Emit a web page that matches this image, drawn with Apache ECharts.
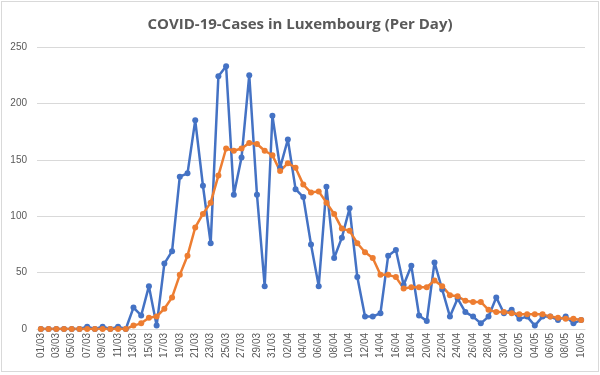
<!DOCTYPE html>
<html>
<head>
<meta charset="utf-8">
<script src="https://cdn.jsdelivr.net/npm/echarts@6/dist/echarts.min.js"></script>
<style>
html,body{margin:0;padding:0;background:#fff;}
#frame{position:absolute;left:1px;top:1px;width:596px;height:369px;border:1px solid #d9d9d9;}
#chart{position:absolute;left:0;top:0;width:600px;height:375px;}
</style>
</head>
<body>
<div id="frame"></div>
<div id="chart"></div>
<script>
const dates = ["01/03","02/03","03/03","04/03","05/03","06/03","07/03","08/03","09/03","10/03","11/03","12/03","13/03","14/03","15/03","16/03","17/03","18/03","19/03","20/03","21/03","22/03","23/03","24/03","25/03","26/03","27/03","28/03","29/03","30/03","31/03","01/04","02/04","03/04","04/04","05/04","06/04","07/04","08/04","09/04","10/04","11/04","12/04","13/04","14/04","15/04","16/04","17/04","18/04","19/04","20/04","21/04","22/04","23/04","24/04","25/04","26/04","27/04","28/04","29/04","30/04","01/05","02/05","03/05","04/05","05/05","06/05","07/05","08/05","09/05","10/05"];
const dailyCases = [0,0,0,0,0,0,2,0,2,0,2,0,19,12,38,3,58,69,135,138,185,127,76,224,233,119,152,225,119,38,189,143,168,124,117,75,38,126,63,81,107,46,11,11,14,65,70,39,56,12,7,59,35,11,27,15,11,5,11,28,14,17,9,11,3,11,11,8,11,5,8];
const average = [0,0,0,0,0,0,0,0,0,0,0,0,3,5,10,11,18,28,48,65,90,102,112,136,160,158,160,165,164,158,154,140,147,143,128,121,122,112,102,89,87,76,68,63,48,48,46,36,37,37,37,43,38,30,29,25,24,24,17,15,15,14,13,13,13,13,11,10,9,9,8];
const yTicks = [0,50,100,150,200,250];

const chart = echarts.init(document.getElementById('chart'), null, {renderer:'canvas'});
const txt = '#595959';
chart.setOption({
  animation:false,
  title:{text:'COVID-19-Cases in Luxembourg (Per Day)',left:'center',top:12,
    textStyle:{fontFamily:'Open Sans',fontWeight:'bold',fontSize:15,color:txt}},
  grid:{left:37,right:15,top:47,bottom:46},
  xAxis:{type:'category',data:dates,boundaryGap:true,
    axisLine:{lineStyle:{color:'#d9d9d9'}},
    axisTick:{show:false},
    axisLabel:{interval:1,rotate:90,color:txt,fontSize:10,fontFamily:'Liberation Sans',margin:4}},
  yAxis:{type:'value',min:yTicks[0],max:yTicks[yTicks.length-1],interval:50,
    axisLine:{show:false},axisTick:{show:false},
    splitLine:{lineStyle:{color:'#d9d9d9'}},
    axisLabel:{color:txt,fontSize:10,fontFamily:'Liberation Sans',margin:10}},
  series:[
    {name:'Cases',type:'line',data:dailyCases,symbol:'circle',symbolSize:6,showAllSymbol:true,
      lineStyle:{color:'#4472C4',width:2.5},itemStyle:{color:'#4472C4'}},
    {name:'Average',type:'line',data:average,symbol:'circle',symbolSize:6,showAllSymbol:true,
      lineStyle:{color:'#ED7D31',width:2.5},itemStyle:{color:'#ED7D31'}}
  ]
});
</script>
</body>
</html>
